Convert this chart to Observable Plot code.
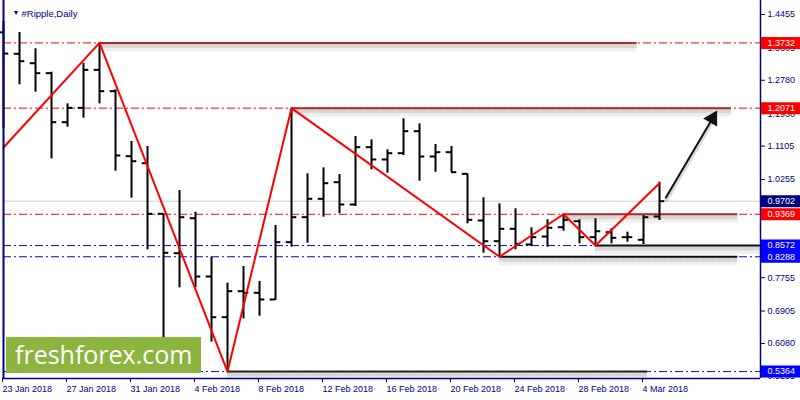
<!DOCTYPE html>
<html><head><meta charset="utf-8">
<script src="https://cdn.jsdelivr.net/npm/d3@7"></script>
<script src="https://cdn.jsdelivr.net/npm/@observablehq/plot@0.6"></script>
<style>
body{margin:0;background:#fff;}
#wrap{position:relative;width:800px;height:400px;overflow:hidden;background:#fff;}
#logo{position:absolute;left:6px;top:337px;width:195px;height:36px;background:#8cb540;color:#fff;font:25px "Open Sans",sans-serif;line-height:35px;padding-left:9px;box-sizing:border-box;white-space:nowrap;}
</style></head><body><div id="wrap"><div id="logo">freshforex.com</div></div>
<script>
// Daily OHLC, day index 0 = 23 Jan 2018
const opens  = [1.400,1.3455,1.3215,1.2961,1.1713,1.2079,1.3046,1.2503,1.0848,1.0669,0.9381,0.8378,0.9269,0.7785,0.6749,0.7411,0.7370,0.7199,0.8659,0.9295,0.9763,1.0186,0.9618,1.1077,1.0764,1.0924,1.1484,1.0840,1.0950,1.0399,0.9211,0.8684,0.8999,0.8600,0.8803,0.9040,0.9193,0.8786,0.8913,0.8786,0.8719,0.9313];
const highs  = [1.428,1.3997,1.3582,1.2986,1.2181,1.3215,1.3732,1.2538,1.1222,1.1095,0.9381,0.9975,0.9422,0.8276,0.7615,0.8040,0.7658,0.9083,1.2071,1.0399,1.0552,1.0382,1.1349,1.1265,1.1010,1.1800,1.1672,1.1145,1.1095,1.0399,0.9789,0.9636,0.9508,0.9025,0.9228,0.9369,0.9228,0.9254,0.8999,0.8913,0.9338,1.0186];
const lows   = [1.155,1.2665,1.2477,1.0781,1.1586,1.1815,1.2181,1.0466,0.9778,0.8465,0.6200,0.7497,0.7497,0.6112,0.5364,0.6708,0.6775,0.7174,0.8531,0.8633,0.9295,0.9381,0.9567,1.0501,1.0415,1.0865,1.0211,1.0440,1.0440,0.9127,0.8378,0.8288,0.8465,0.8549,0.8531,0.8938,0.8617,0.8572,0.8617,0.8659,0.8600,0.9211];
const closes = [1.346,1.3266,1.2961,1.1713,1.2079,1.3046,1.2503,1.0865,1.0720,0.9381,0.8388,0.9295,0.7785,0.6749,0.7411,0.7370,0.7199,0.8659,0.9295,0.9763,1.0160,0.9618,1.1077,1.0764,1.0924,1.1484,1.0840,1.0950,1.0440,0.9228,0.8684,0.8999,0.8617,0.8786,0.9025,0.9228,0.8786,0.8938,0.8770,0.8786,0.9295,0.9702];

const xTickIdx = [0,4,8,12,16,20,24,28,32,36,40];
const xTickLabels = ["23 Jan 2018","27 Jan 2018","31 Jan 2018","4 Feb 2018","8 Feb 2018","12 Feb 2018","16 Feb 2018","20 Feb 2018","24 Feb 2018","28 Feb 2018","4 Mar 2018"];
const yTicks = [1.4455,1.3605,1.2780,1.1930,1.1105,1.0255,0.9430,0.8580,0.7755,0.6905,0.6080,0.5255];

// zigzag
const zigIdx = [0,6,14,18,31,35,37,41];
const zigVal = [1.107,1.3732,0.5364,1.2071,0.8288,0.9369,0.8572,1.016];

// levels
const levelVals   = [1.3732,1.2071,0.9369,0.8572,0.8288,0.5364];
const levelColors = ["#ff0000","#ff0000","#ff0000","#0000ff","#0000ff","#0000ff"];
const segFrom = [6,18,35,37,31,14];
const segTo   = [39.6,45.5,45.9,47.3,45.9,40.25];
const segColors = ["#b02828","#b02828","#b02828","#111","#111","#222"];
const currentPrice = 0.9702;

// price labels
const labelVals   = [1.3732,1.2071,0.9702,0.9369,0.8572,0.8288,0.5364];
const labelColors = ["#ff0000","#ff0000","#00007f","#ff0000","#0000ff","#0000ff","#0000ff"];

// arrow (start -> head centre)
const arrowX = [41.375, 44.31];
const arrowY = [0.9778, 1.1807];

const xMax = 47.3125, yMin = 0.51882, yMax = 1.48114;

const bars = opens.map((o,i)=>({i, o, h:highs[i], l:lows[i], c:closes[i]}));
const zig = zigIdx.map((i,k)=>({i, v:zigVal[k]}));
const levels = levelVals.map((v,k)=>({v, color:levelColors[k]}));
const segs = levelVals.map((v,k)=>({v, from:segFrom[k], to:segTo[k], color:segColors[k]}));
const labels = labelVals.map((v,k)=>({v, bg:labelColors[k]}));
const arrow = [{x1:arrowX[0], y1:arrowY[0], x2:arrowX[1], y2:arrowY[1]}];
const navy = "#000080";

const chart = Plot.plot({
  width: 800, height: 400,
  marginLeft: 3, marginRight: 40, marginTop: 0, marginBottom: 22,
  x: {domain: [0, xMax]},
  y: {domain: [yMin, yMax]},
  style: {fontFamily: "Liberation Sans, Arial, sans-serif", fontSize: "9px", background: "white", overflow: "visible"},
  marks: [
    Plot.ruleY([currentPrice], {stroke: "#cfcfcf", strokeWidth: 1}),
    Plot.ruleY(levels, {y: "v", stroke: "color", strokeWidth: 1, strokeDasharray: "8,3,2,3"}),
    Plot.ruleY(segs, {x1: "from", x2: "to", y: "v", stroke: "#000", strokeOpacity: 0.06, strokeWidth: 9, dy: 4}),
    Plot.ruleY(segs, {x1: "from", x2: "to", y: "v", stroke: "#000", strokeOpacity: 0.1, strokeWidth: 4, dy: 3}),
    Plot.ruleY(segs, {x1: "from", x2: "to", y: "v", stroke: "color", strokeWidth: 2}),
    Plot.ruleX(bars, {x: "i", y1: "l", y2: "h", stroke: "black", strokeWidth: 2}),
    Plot.ruleY(bars, {x1: d => d.i - 0.33, x2: "i", y: "o", stroke: "black", strokeWidth: 2}),
    Plot.ruleY(bars, {x1: "i", x2: d => d.i + 0.33, y: "c", stroke: "black", strokeWidth: 2}),
    Plot.line(zig, {x: "i", y: "v", stroke: "#ff0000", strokeWidth: 2}),
    Plot.link(arrow, {x1: "x1", y1: "y1", x2: "x2", y2: "y2", stroke: "#000", strokeOpacity: 0.15, strokeWidth: 4, dy: 3}),
    Plot.link(arrow, {x1: "x1", y1: "y1", x2: "x2", y2: "y2", stroke: "#111", strokeWidth: 2}),
    Plot.dot(arrow, {x: "x2", y: "y2", symbol: "triangle", r: 6, rotate: 30, fill: "#111", stroke: "none"}),
    Plot.ruleX([0], {stroke: navy, strokeWidth: 2}),
    Plot.ruleX([xMax], {stroke: navy, strokeWidth: 1.5}),
    Plot.ruleY([yMin], {stroke: navy, strokeWidth: 1.5}),
    Plot.axisY({anchor: "right", ticks: yTicks, tickFormat: d => d.toFixed(4), tickSize: 4, tickPadding: 3, stroke: navy, fill: navy, label: null}),
    Plot.axisX({ticks: xTickIdx, tickFormat: d => xTickLabels[xTickIdx.indexOf(d)], tickSize: 4, tickPadding: 3, textAnchor: "start", dx: -1, stroke: navy, fill: navy, label: null}),
    Plot.ruleY(labels, {y: "v", stroke: "bg", strokeWidth: 12, insetLeft: 758, insetRight: -40}),
    Plot.text(labels, {y: "v", text: d => d.v.toFixed(4), frameAnchor: "right", dx: 7, textAnchor: "start", fill: "white", fontSize: 9}),
    Plot.text(["▼"], {frameAnchor: "top-left", dx: 9, dy: 10, fill: navy, fontSize: 7}),
    Plot.text(["#Ripple,Daily"], {frameAnchor: "top-left", dx: 18, dy: 10, textAnchor: "start", fill: navy, fontSize: 9.5})
  ]
});
document.getElementById("wrap").insertBefore(chart, document.getElementById("logo"));
</script>
</body></html>
